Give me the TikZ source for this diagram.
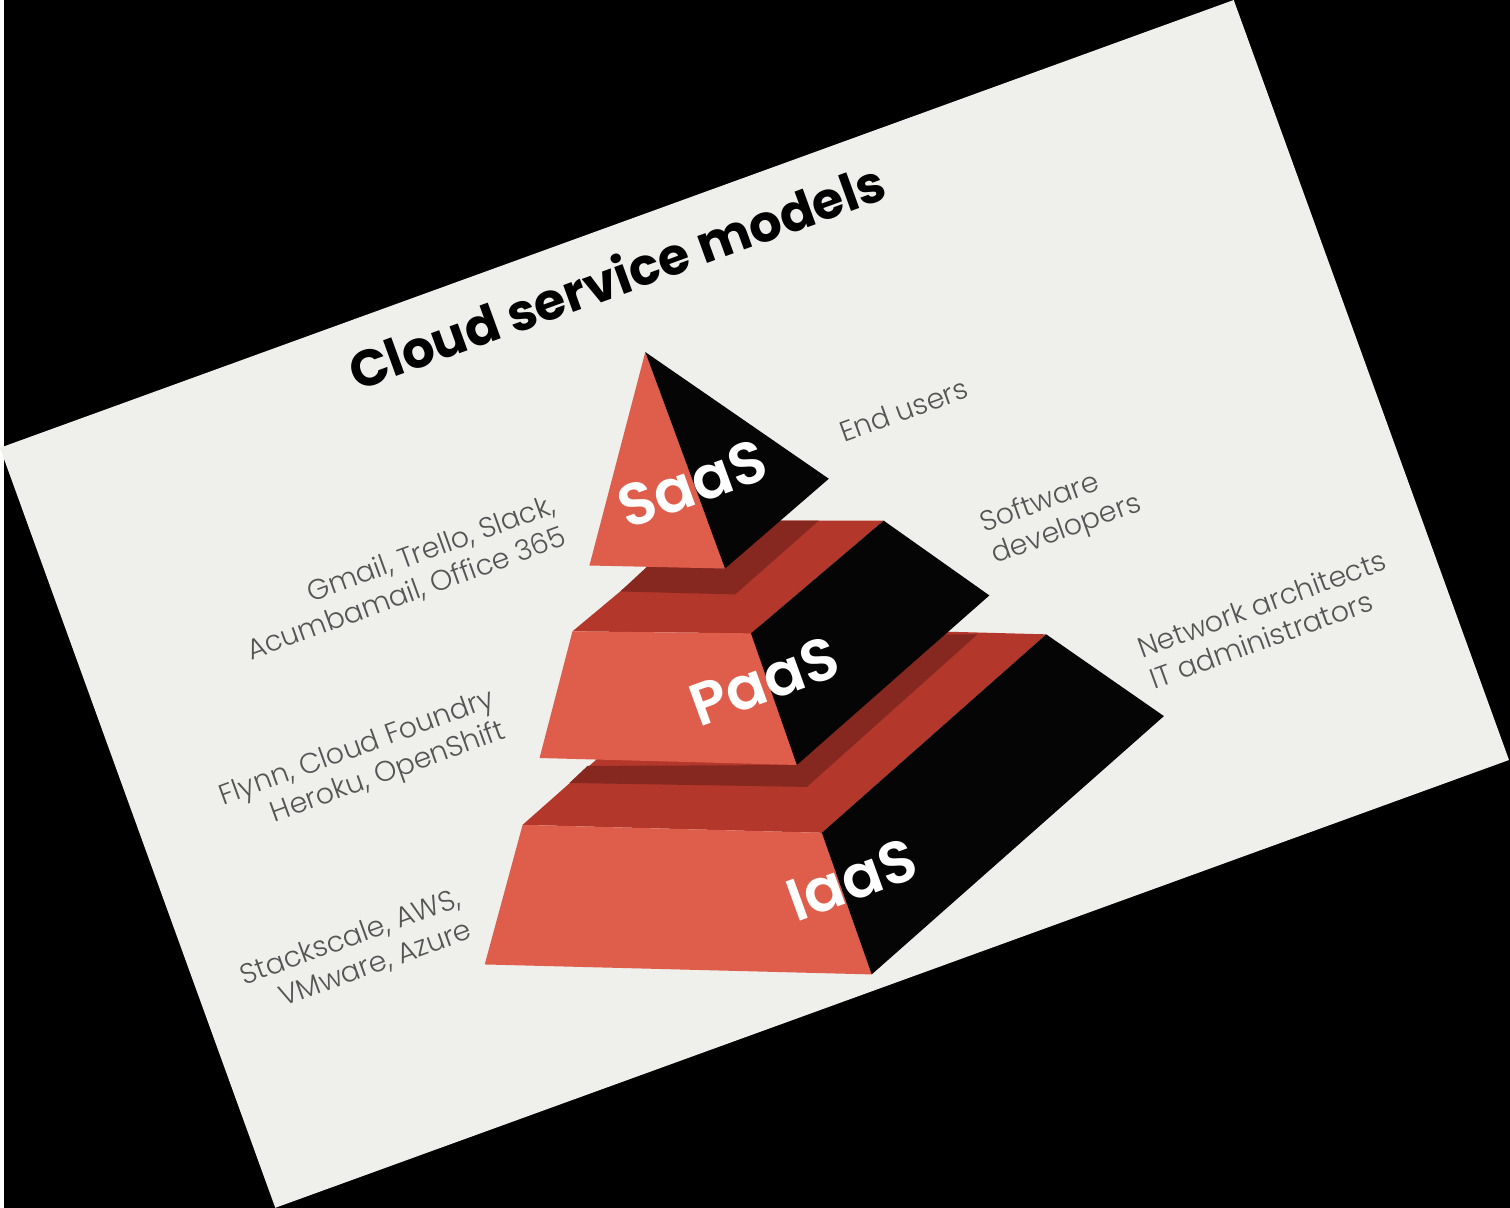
\documentclass[tikz,border=0pt]{standalone}
\usepackage{fontspec}
\setmainfont{Poppins}
\newfontfamily\lightfont{Poppins Light}
\newfontfamily\semifont{Poppins SemiBold}
\usetikzlibrary{positioning}

\definecolor{slidebg}{HTML}{EFEFEB}
\definecolor{pyrred}{HTML}{DF5D4B}
\definecolor{pyrtop}{HTML}{B3372A}
\definecolor{pyrshade}{HTML}{862820}
\definecolor{pyrblack}{HTML}{050505}
\definecolor{labelgray}{HTML}{555555}

\begin{document}
\begin{tikzpicture}[
  x=0.01cm, y=-0.01cm,
  front/.style={fill=pyrred},
  topside/.style={fill=pyrtop},
  shade/.style={fill=pyrshade},
  side/.style={fill=pyrblack},
  tier/.style={text=white, font=\semifont\fontsize{17}{20}\selectfont, rotate=20, inner sep=0pt},
  users/.style={text=labelgray, font=\lightfont\fontsize{8.1}{9.6}\selectfont, rotate=20, align=left, inner sep=0pt},
  tools/.style={text=labelgray, font=\lightfont\fontsize{8.1}{9.6}\selectfont, rotate=20, align=right, inner sep=0pt},
  heading/.style={text=black, font=\bfseries\fontsize{14.6}{17}\selectfont, rotate=20, inner sep=0pt}
]
% black surround and tilted slide
\fill[black] (0,0) rectangle (1510,1211);
\fill[slidebg] (-4,449) -- (1233,0) -- (1509,762) -- (272,1211) -- cycle;
\useasboundingbox (0,0) rectangle (1510,1211);

% IaaS tier
\fill[topside] (520,827) -- (745,628) -- (1045,636) -- (820,835) -- cycle;
\fill[shade] (585,768) -- (567,785) -- (805,789) -- (976,636) -- (944,636) -- (795,767) -- cycle;
\fill[front] (520,827) -- (482,967) -- (870,977) -- (820,835) -- cycle;
\fill[side] (820,835) -- (870,977) -- (1163,718) -- (1045,636) -- cycle;

% PaaS tier
\fill[topside] (570,633) -- (703,522) -- (882,522) -- (749,635) -- cycle;
\fill[shade] (645,568) -- (618,593) -- (733,596) -- (817,522) -- (778,522) -- (723,570) -- cycle;
\fill[front] (570,633) -- (537,760) -- (795,767) -- (749,635) -- cycle;
\fill[side] (749,635) -- (795,767) -- (988,597) -- (882,522) -- cycle;

% SaaS tip
\fill[front] (643,353) -- (587,567) -- (723,570) -- cycle;
\fill[side] (643,353) -- (723,570) -- (827,480) -- cycle;

% texts
\node[heading] (title) at (614,276) {Cloud service models};

\node[tier] (saas) at (690,485) {SaaS};
\node[tier] (paas) at (762,683) {PaaS};
\node[tier] (iaas) at (850,882) {IaaS};

\node[users] (enduser) at (902,411) {End users};
\node[users] (devs) at (1060,516) {Software\\developers};
\node[users] (admins) at (1267,621) {Network architects\\IT administrators};

\node[tools] (saastools) at (398,580) {Gmail, Trello, Slack,\\Acumbamail, Office 365};
\node[tools] (paastools) at (360,767) {Flynn, Cloud Foundry\\Heroku, OpenShift};
\node[tools] (iaastools) at (353,956) {Stackscale, AWS,\\VMware, Azure};
\end{tikzpicture}
\end{document}
